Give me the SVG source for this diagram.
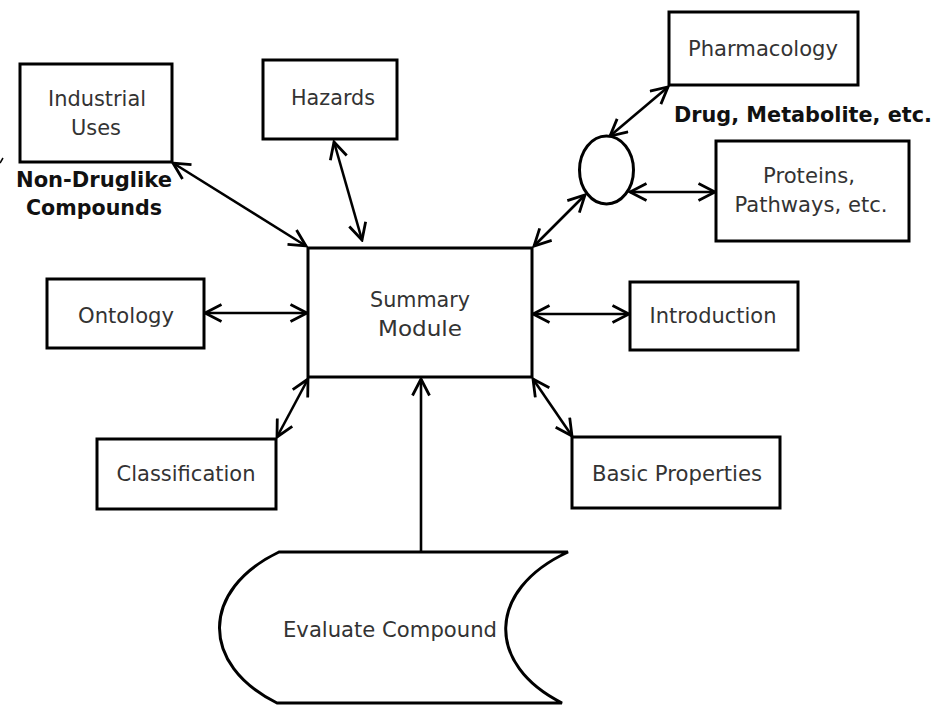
<svg xmlns="http://www.w3.org/2000/svg" width="938" height="705" viewBox="0 0 938 705">
<style>
.box{fill:#fff;stroke:#000;stroke-width:3}
.lbl{font-family:"DejaVu Sans",sans-serif;font-size:22px;fill:#333;text-anchor:middle}
.bold{font-family:"DejaVu Sans",sans-serif;font-size:22px;font-weight:bold;fill:#111}
.con{fill:none;stroke:#000;stroke-width:2.6}
</style>
<defs>
<marker id="ah" viewBox="0 0 20 20" refX="18" refY="10" markerWidth="20" markerHeight="20" markerUnits="userSpaceOnUse" orient="auto-start-reverse">
<path d="M1.5,1.5 L18,10 L1.5,18.5" fill="none" stroke="#000" stroke-width="2.8"/>
</marker>
</defs>
<rect width="938" height="705" fill="#fff"/>

<g id="connectors">
<line class="con" x1="173" y1="163" x2="306" y2="246" marker-start="url(#ah)" marker-end="url(#ah)"/>
<line class="con" x1="334" y1="142" x2="362" y2="240" marker-start="url(#ah)" marker-end="url(#ah)"/>
<line class="con" x1="534" y1="246" x2="585" y2="195" marker-start="url(#ah)" marker-end="url(#ah)"/>
<line class="con" x1="610" y1="136" x2="668" y2="87" marker-start="url(#ah)" marker-end="url(#ah)"/>
<line class="con" x1="630" y1="192" x2="715" y2="192" marker-start="url(#ah)" marker-end="url(#ah)"/>
<line class="con" x1="205" y1="313" x2="307" y2="313" marker-start="url(#ah)" marker-end="url(#ah)"/>
<line class="con" x1="533" y1="314" x2="629" y2="314" marker-start="url(#ah)" marker-end="url(#ah)"/>
<line class="con" x1="308" y1="379" x2="277" y2="437" marker-start="url(#ah)" marker-end="url(#ah)"/>
<line class="con" x1="533" y1="379" x2="572" y2="436" marker-start="url(#ah)" marker-end="url(#ah)"/>
<line class="con" x1="421" y1="552" x2="421" y2="379" marker-end="url(#ah)"/>
<line x1="0" y1="163" x2="3" y2="158" stroke="#000" stroke-width="1.5"/>
</g>

<g id="industrial">
<rect class="box" x="20" y="64" width="152" height="98"/>
<text class="lbl" x="97" y="106" textLength="98" lengthAdjust="spacingAndGlyphs">Industrial</text>
<text class="lbl" x="96" y="135" textLength="50" lengthAdjust="spacingAndGlyphs">Uses</text>
</g>
<g id="nondruglike">
<text class="bold" x="16" y="187" textLength="156" lengthAdjust="spacingAndGlyphs">Non-Druglike</text>
<text class="bold" x="26" y="215" textLength="136" lengthAdjust="spacingAndGlyphs">Compounds</text>
</g>
<g id="hazards">
<rect class="box" x="263" y="60" width="134" height="79"/>
<text class="lbl" x="333" y="105" textLength="84" lengthAdjust="spacingAndGlyphs">Hazards</text>
</g>
<g id="pharmacology">
<rect class="box" x="669" y="12" width="189" height="73"/>
<text class="lbl" x="763" y="56" textLength="150" lengthAdjust="spacingAndGlyphs">Pharmacology</text>
</g>
<g id="drug">
<text class="bold" x="674" y="122" style="font-size:20.5px" textLength="258" lengthAdjust="spacingAndGlyphs">Drug, Metabolite, etc.</text>
</g>
<g id="junction">
<ellipse cx="606.5" cy="170" rx="27" ry="34" fill="#fff" stroke="#000" stroke-width="3"/>
</g>
<g id="proteins">
<rect class="box" x="716" y="141" width="193" height="100"/>
<text class="lbl" x="809" y="183" textLength="92" lengthAdjust="spacingAndGlyphs">Proteins,</text>
<text class="lbl" x="811" y="212" textLength="153" lengthAdjust="spacingAndGlyphs">Pathways, etc.</text>
</g>
<g id="summary">
<rect class="box" x="308" y="248" width="224" height="129"/>
<text class="lbl" x="420" y="307" textLength="100" lengthAdjust="spacingAndGlyphs">Summary</text>
<text class="lbl" x="420" y="336" textLength="84" lengthAdjust="spacingAndGlyphs">Module</text>
</g>
<g id="ontology">
<rect class="box" x="47" y="279" width="157" height="69"/>
<text class="lbl" x="126" y="323" textLength="96" lengthAdjust="spacingAndGlyphs">Ontology</text>
</g>
<g id="introduction">
<rect class="box" x="630" y="282" width="168" height="68"/>
<text class="lbl" x="713" y="323" textLength="127" lengthAdjust="spacingAndGlyphs">Introduction</text>
</g>
<g id="classification">
<rect class="box" x="97" y="439" width="179" height="70"/>
<text class="lbl" x="186" y="481" textLength="139" lengthAdjust="spacingAndGlyphs">Classification</text>
</g>
<g id="basic">
<rect class="box" x="572" y="437" width="208" height="71"/>
<text class="lbl" x="677" y="481" textLength="170" lengthAdjust="spacingAndGlyphs">Basic Properties</text>
</g>
<g id="evaluate">
<path d="M279,552 L568,552 C486,590 486,665 562,703 L277,703 C200,665 200,590 279,552 Z" fill="#fff" stroke="#000" stroke-width="3"/>
<text class="lbl" x="390" y="637" textLength="214" lengthAdjust="spacingAndGlyphs">Evaluate Compound</text>
</g>
</svg>
